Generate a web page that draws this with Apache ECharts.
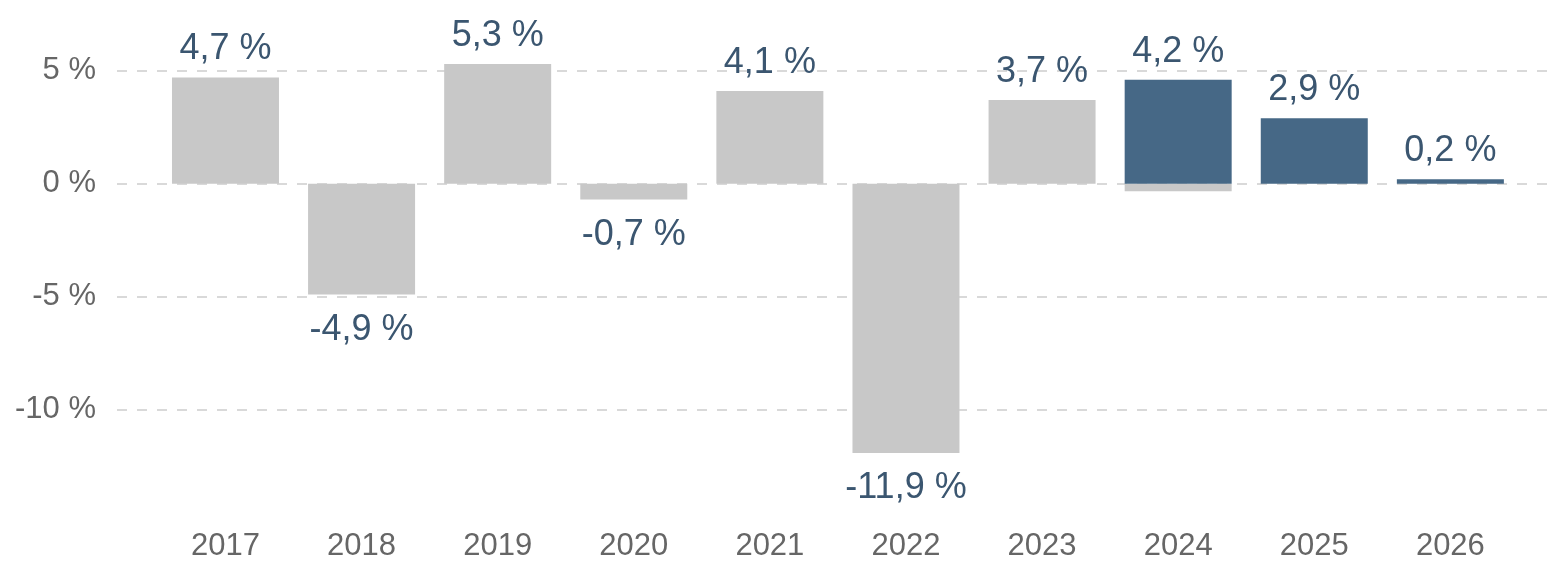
<!DOCTYPE html>
<html>
<head>
<meta charset="utf-8">
<script src="https://cdn.jsdelivr.net/npm/echarts@6/dist/echarts.min.js"></script>
<style>
  html, body { margin: 0; padding: 0; background: #fff; }
  #chart { width: 1551px; height: 562px; }
</style>
</head>
<body>
<div id="chart"></div>
<script>
const years = [2017, 2018, 2019, 2020, 2021, 2022, 2023, 2024, 2025, 2026];
// grey bars: observed values (2024 has a small negative part under the blue bar)
const actual = [4.7, -4.9, 5.3, -0.7, 4.1, -11.9, 3.7, -0.33, null, null];
// blue bars: forecast
const forecast = [null, null, null, null, null, null, null, 4.6, 2.9, 0.2];
// printed labels
const labelValues = [4.7, -4.9, 5.3, -0.7, 4.1, -11.9, 3.7, 4.2, 2.9, 0.2];
const yTicks = [-15, -10, -5, 0, 5];

const fontFamily = "'Liberation Sans', Arial, sans-serif";
const fmt = (v) => v.toFixed(1).replace(".", ",") + " %";

const chart = echarts.init(document.getElementById("chart"));

const labelFor = (i, show) => ({
  show: show,
  position: labelValues[i] < 0 ? "bottom" : "top",
  distance: labelValues[i] < 0 ? 17 : 10,
  formatter: () => fmt(labelValues[i]),
  color: "#3b5670",
  fontSize: 36,
  fontFamily: fontFamily,
});

const greyData = years.map((y, i) => ({
  value: [y, actual[i] === null ? "-" : actual[i]],
  label: labelFor(i, actual[i] !== null && forecast[i] === null),
}));
const blueData = years.map((y, i) => ({
  value: [y, forecast[i] === null ? "-" : forecast[i]],
  label: labelFor(i, forecast[i] !== null),
}));

chart.setOption({
  animation: false,
  grid: { left: 117, right: 4, top: 70.7, bottom: 38.8 },
  xAxis: {
    type: "value",
    min: 2016.203,
    max: 2026.71,
    axisLine: { show: false },
    axisTick: { show: false },
    splitLine: { show: false },
    axisLabel: {
      customValues: years,
      formatter: (v) => String(Math.round(v)),
      color: "#666",
      fontSize: 31,
      fontFamily: fontFamily,
      margin: 8,
    },
  },
  yAxis: {
    type: "value",
    min: yTicks[0],
    max: yTicks[yTicks.length - 1],
    interval: 5,
    axisLine: { show: false },
    axisTick: { show: false },
    axisLabel: {
      formatter: (v) => v + " %",
      showMinLabel: false,
      color: "#666",
      fontSize: 31,
      fontFamily: fontFamily,
      margin: 21,
    },
    splitLine: {
      showMinLine: false,
      lineStyle: { color: "#d9d9d9", width: 2, type: [10, 10] },
    },
  },
  series: [
    {
      type: "bar",
      data: greyData,
      barWidth: 107,
      barGap: "-100%",
      clip: false,
      itemStyle: { color: "#c8c8c8" },
    },
    {
      type: "bar",
      data: blueData,
      barWidth: 107,
      barGap: "-100%",
      clip: false,
      itemStyle: { color: "#466886" },
    },
  ],
});
</script>
</body>
</html>
